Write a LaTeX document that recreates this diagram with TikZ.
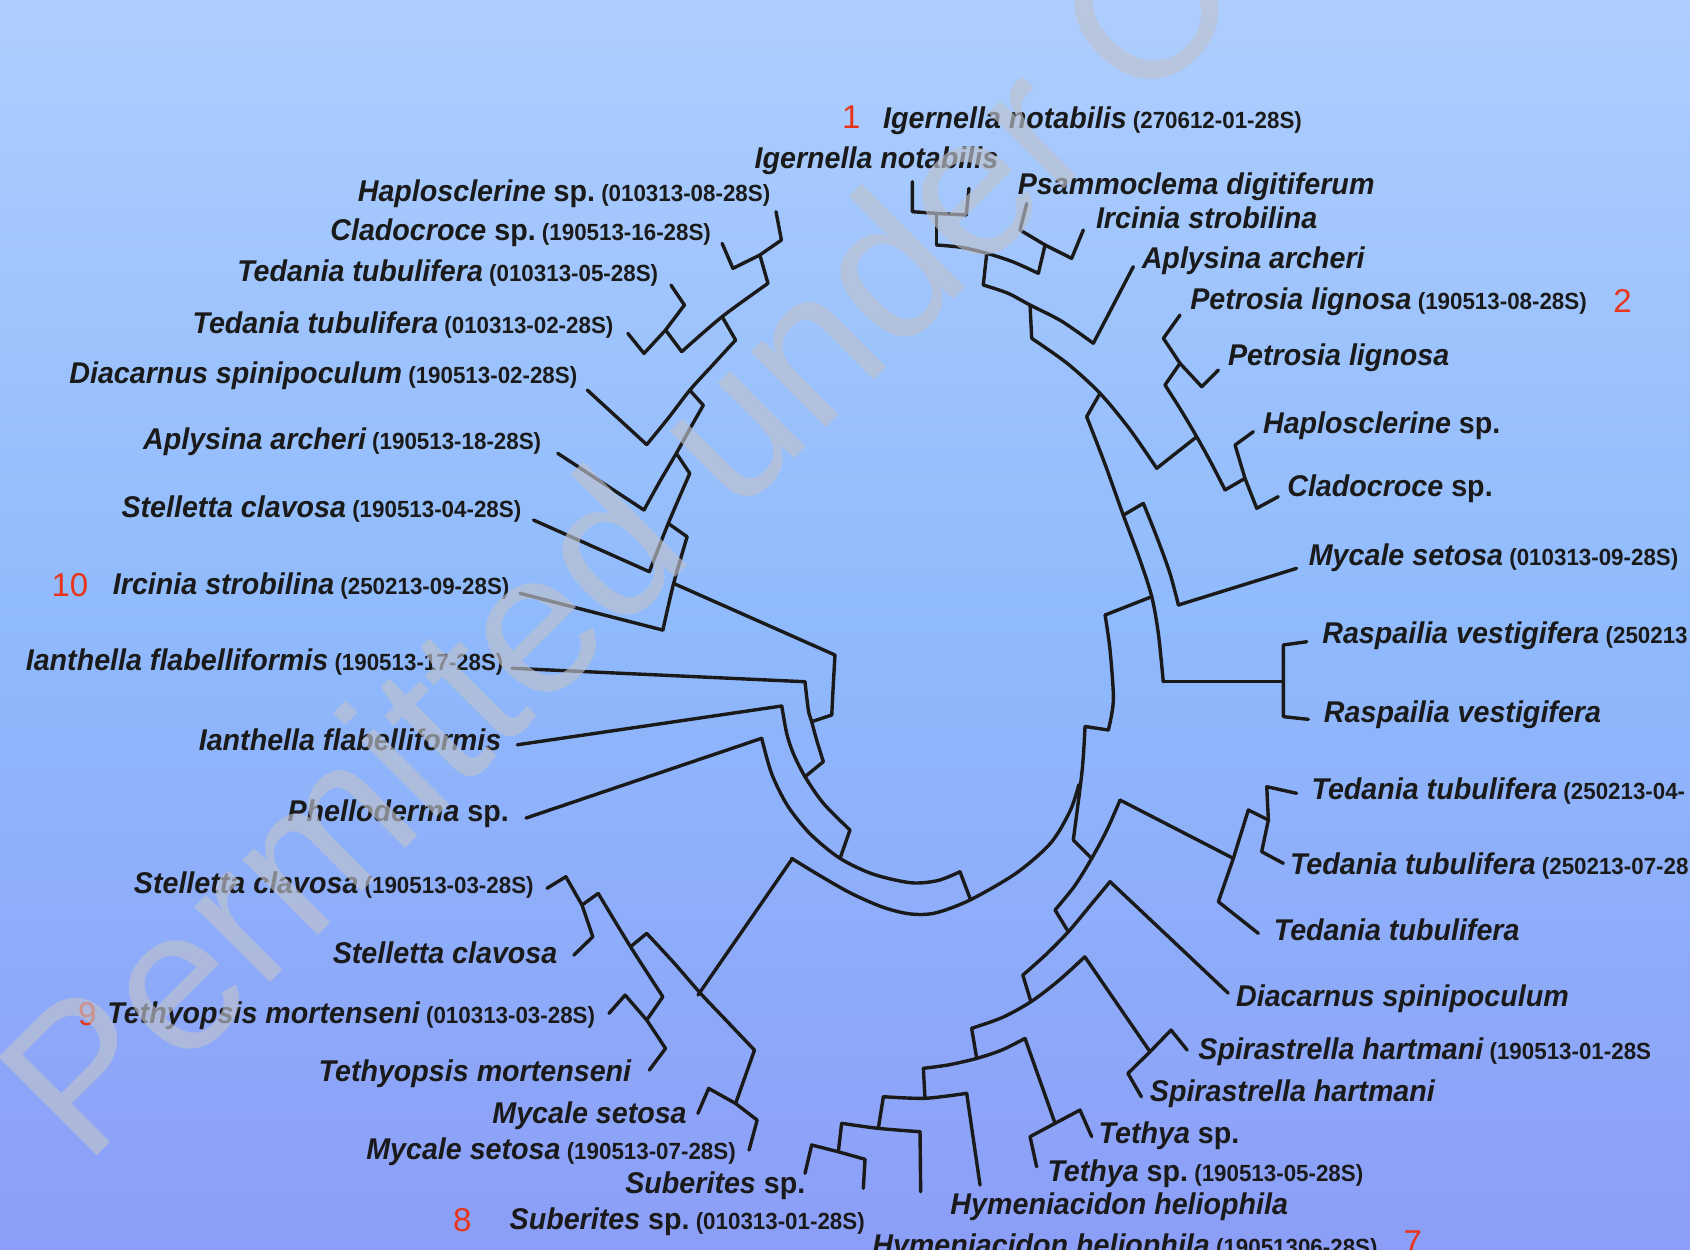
\documentclass[tikz,border=0pt]{standalone}
\usepackage{fontspec}
\setmainfont{Liberation Sans}
\newfontfamily\labfont[FakeStretch=0.955]{Liberation Sans}
\newfontfamily\plainfont{Liberation Sans}
\definecolor{numred}{RGB}{232,52,24}
\definecolor{bgtop}{RGB}{174,206,254}
\definecolor{bgmid}{RGB}{143,186,252}
\definecolor{bgbot}{RGB}{140,158,247}
\definecolor{ink}{RGB}{26,26,26}
\definecolor{wmgray}{RGB}{190,194,205}
\newcommand\nm[1]{{\labfont\bfseries\itshape\fontsize{15}{15}\selectfont #1}}
\newcommand\ac[1]{{\labfont\bfseries\fontsize{11.7}{12}\selectfont\ #1}}
\newcommand\spp{\textup{sp.}}
\begin{document}
\begin{tikzpicture}[x=0.5389pt,y=-0.5389pt,
  br/.style={draw=ink,line width=1.7pt,line join=round,line cap=round},
  arc/.style={br,smooth,tension=0.5},
  lab/.style={inner sep=0pt,text=ink},
  num/.style={inner sep=0pt,text=numred,font=\plainfont\fontsize{16.5}{16.5}\selectfont}]
\shade[top color=bgtop,bottom color=bgbot,middle color=bgmid] (0,0) rectangle (1568,1159);
\useasboundingbox (0,0) rectangle (1568,1159);

% ---------- upper-left group ----------
\draw[br] (720,196.4)--(725,222.7)--(705,236.6)--(680,249)--(670,225.8);
\draw[br] (705,236.6)--(712.5,262.9);
\draw[br] (622.5,264.5)--(635,283)--(617.5,306.2)--(597.5,327.9)--(582.5,309.3);
\draw[br] (617.5,306.2)--(632.5,326.3);
\draw[arc] plot coordinates {(712.5,262.9) (670,293.8) (632.5,326.3)};
\draw[br] (670,293.8)--(682.5,315.5);
\draw[arc] plot coordinates {(682.5,315.5) (660,340) (640,362) (620,388) (600,412.5)};
\draw[br] (600,412.5)--(545,362);
\draw[br] (640,362)--(652.5,376);
\draw[arc] plot coordinates {(652.5,376) (640,398) (627.5,420.6) (612,447) (597.5,473.2)};
\draw[br] (597.5,473.2)--(517.5,420.6);
\draw[br] (627.5,420.6)--(640,439.2);
\draw[arc] plot coordinates {(640,439.2) (620,485.6) (602.5,530.4)};
\draw[br] (602.5,530.4)--(495,482.5);
\draw[br] (620,485.6)--(637.5,498);
\draw[arc] plot coordinates {(637.5,498) (625,541.3) (615,584.6)};
\draw[br] (615,584.6)--(482.5,550.5);
\draw[br] (625,541.3)--(774.7,607.7);

% ---------- root and left spiral ----------
\draw[arc] plot coordinates {(774.7,607.7) (773.2,634) (771.7,663.4)};
\draw[br] (771.7,663.4)--(753.1,669.6);
\draw[br] (475,620)--(746.9,632.5);
\draw[arc] plot coordinates {(746.9,632.5) (750,658.8) (753.1,669.6) (757.7,686.6) (763.9,706.7)};
\draw[br] (763.9,706.7)--(746.9,720.6);
\draw[br] (480,691)--(725.3,655);
\draw[arc] plot coordinates {(725.3,655) (729.9,680.4) (736,699) (746.9,720.6) (763.9,745.3) (788.6,770.1)};
\draw[br] (788.6,770.1)--(779.4,796.4);
\draw[br] (488,759)--(706.7,685);
\draw[arc] plot coordinates {(706.7,685) (716,718) (731,748) (752,774) (779.4,796.4) (810,811) (845,819) (870,817) (890.7,808.8)};
\draw[br] (890.7,808.8)--(900,833.5);
\draw[arc] plot coordinates {(734.5,796.4) (760,812) (790,829) (820,842) (845,848) (868,847) (900,835) (943,810) (975,782) (993,752) (1001,728)};
\draw[br] (647.6,923.2)--(735.3,796.4);

% ---------- bottom-left group ----------
\draw[br] (507.5,824.2)--(525,813.4)--(540,839.7)--(550,869.1)--(532.5,886.1);
\draw[br] (540,839.7)--(555,828.9);
\draw[arc] plot coordinates {(555,828.9) (585,878.4) (615,924.8)};
\draw[br] (565,940.2)--(580,923.2)--(600,946.4)--(617.5,972.7)--(602.5,992.8);
\draw[br] (600,946.4)--(615,924.8);
\draw[br] (585,878.4)--(600,866);
\draw[arc] plot coordinates {(600,866) (625,893) (650,921.7) (675,948) (700,974.3)};
\draw[br] (647.5,1033)--(657.5,1009.8)--(682.5,1023.8)--(702.5,1039.2)--(695,1067);
\draw[br] (682.5,1023.8)--(700,974.3);

% ---------- bottom group ----------
\draw[br] (746.9,1088.6)--(753.1,1062.3)--(777.8,1068.6)--(802.6,1075.6)--(801,1102.5);
\draw[br] (777.8,1068.6)--(780.9,1042.2);
\draw[arc] plot coordinates {(780.9,1042.2) (814.9,1046.9) (853.6,1050)};
\draw[br] (853.6,1050)--(854.2,1105.7);
\draw[br] (814.9,1046.9)--(819.6,1017.5);
\draw[arc] plot coordinates {(819.6,1017.5) (858.2,1019) (896.9,1014.4)};
\draw[br] (896.9,1014.4)--(909.3,1099.5);
\draw[br] (858.2,1019)--(856.7,991.2);
\draw[arc] plot coordinates {(856.7,991.2) (880,988) (906.2,982) (930,974) (951,963.4)};
\draw[br] (951,963.4)--(978.9,1042.2);
\draw[br] (1012.9,1054.6)--(1002,1029.9)--(978.9,1042.2)--(955.7,1054.6)--(961.8,1082.5);
\draw[br] (906.2,982)--(901.5,954.1);
\draw[arc] plot coordinates {(901.5,954.1) (930,944) (956.5,929.4) (982,910) (1006.5,887.7)};
\draw[br] (1006.5,887.7)--(1067,975.8);
\draw[br] (1101.5,974.3)--(1086.5,955.7)--(1067,975.8)--(1046.5,995.9)--(1059,1017.6);
\draw[br] (956.5,929.4)--(949,904.7);

% ---------- right side ----------
\draw[br] (1139.5,921.4)--(1029.9,818);
\draw[arc] plot coordinates {(1029.9,818) (1010,842) (991.2,864.5) (970,886) (949,904.7)};
\draw[br] (978.9,844.3)--(991.2,864.5);
\draw[br] (1144.3,796.4)--(1039.2,742.3);
\draw[arc] plot coordinates {(1039.2,742.3) (1027,770) (1012.9,796.4) (997,822) (978.9,844.3)};
\draw[br] (1167.5,866)--(1130.4,836.6)--(1144.3,796.4)--(1158.2,751.5)--(1176.8,760.8);
\draw[br] (1203,736)--(1175.3,729.9)--(1176.8,760.8)--(1170.6,790.2)--(1190.7,801);
\draw[br] (995.8,779.4)--(1012.9,796.4);
\draw[br] (1028.3,677.3)--(1006.7,674);
\draw[arc] plot coordinates {(1006.7,674) (1004,715) (995.8,779.4)};
\draw[br] (1068.6,553.6)--(1025.3,570.6);
\draw[arc] plot coordinates {(1025.3,570.6) (1029.9,603.1) (1033,649.5) (1028.3,677.3)};
\draw[arc] plot coordinates {(1008.2,386.6) (1025,430) (1042.2,478) (1057.7,519.6) (1068.6,553.6) (1074.7,587.6) (1079.3,632.5)};
\draw[br] (1079.3,632.5)--(1190.7,632.5);
\draw[br] (1042.2,478)--(1060.8,467);
\draw[arc] plot coordinates {(1060.8,467) (1073.2,498) (1085.5,532) (1093.3,561.3)};
\draw[br] (1093.3,561.3)--(1203,527.3);
\draw[br] (1212.4,595.4)--(1190.7,598.4)--(1190.7,664.9)--(1213.9,667.4);

% ---------- top group ----------
\draw[br] (1020.6,364.9)--(1008.2,386.6);
\draw[arc] plot coordinates {(957.2,313.9) (990,337) (1020.6,364.9) (1048,398) (1073.2,434.5)};
\draw[br] (1073.2,434.5)--(1110.3,405.2);
\draw[arc] plot coordinates {(1080.9,357.2) (1096,381) (1110.3,405.2) (1124,430) (1136.6,454.6)};
\draw[br] (1094.8,292.3)--(1079.4,313.9)--(1094.8,337.1)--(1115,358.8)--(1130.4,343.3);
\draw[br] (1094.8,337.1)--(1080.9,357.2);
\draw[br] (1162.9,400.5)--(1145.9,412.9)--(1155.1,443.8)--(1166,471.6)--(1186,460.8);
\draw[br] (1155.1,443.8)--(1136.6,454.6);
\draw[br] (955.7,283)--(957.2,313.9);
\draw[arc] plot coordinates {(912.3,264.4) (935,272) (955.7,283) (985,298) (1014.4,318.5)};
\draw[br] (1014.4,318.5)--(1051.5,247.4);
\draw[br] (915.5,235)--(912.3,264.4);
\draw[arc] plot coordinates {(869,227.3) (892,229.5) (915.5,235) (940,243) (963.4,253.6)};
\draw[br] (969.6,227.3)--(963.4,253.6);
\draw[br] (952.6,188.7)--(946.4,213.4)--(969.6,227.3)--(994.3,239.7)--(1005.1,213.4);
\draw[br] (869,198)--(869,227.3);
\draw[br] (846.5,168.6)--(846.5,196.4)--(869,198)--(896.5,199.5)--(899,174.8);

% ---------- labels, right side ----------
\node[num,anchor=base west] (n1) at (781,119) {1};
\node[lab,anchor=base west] (t1) at (819,119) {\nm{Igernella notabilis}\ac{(270612-01-28S)}};
\node[lab,anchor=base east] (t2) at (926.5,156) {\nm{Igernella notabilis}};
\node[lab,anchor=base west] (t3) at (944,180) {\nm{Psammoclema digitiferum}};
\node[lab,anchor=base west] (t4) at (1016.5,212) {\nm{Ircinia strobilina}};
\node[lab,anchor=base west] (t5) at (1059,249) {\nm{Aplysina archeri}};
\node[lab,anchor=base west] (t6) at (1104,287) {\nm{Petrosia lignosa}\ac{(190513-08-28S)}};
\node[num,anchor=base west] (n2) at (1496.5,290) {2};
\node[lab,anchor=base west] (t7) at (1139,339) {\nm{Petrosia lignosa}};
\node[lab,anchor=base west] (t8) at (1171.5,402) {\nm{Haplosclerine \spp}};
\node[lab,anchor=base west] (t9) at (1194,461) {\nm{Cladocroce \spp}};
\node[lab,anchor=base west] (t10) at (1214,525) {\nm{Mycale setosa}\ac{(010313-09-28S)}};
\node[lab,anchor=base west] (t11) at (1226.5,597) {\nm{Raspailia vestigifera}\ac{(250213}};
\node[lab,anchor=base west] (t12) at (1228,670) {\nm{Raspailia vestigifera}};
\node[lab,anchor=base west] (t13) at (1216.5,742) {\nm{Tedania tubulifera}\ac{(250213-04-}};
\node[lab,anchor=base west] (t14) at (1196.5,811) {\nm{Tedania tubulifera}\ac{(250213-07-28}};
\node[lab,anchor=base west] (t15) at (1181.5,873) {\nm{Tedania tubulifera}};
\node[lab,anchor=base west] (t16) at (1146.5,934) {\nm{Diacarnus spinipoculum}};
\node[lab,anchor=base west] (t17) at (1111.5,983) {\nm{Spirastrella hartmani}\ac{(190513-01-28S}};
\node[lab,anchor=base west] (t18) at (1066.5,1022) {\nm{Spirastrella hartmani}};
\node[lab,anchor=base west] (t19) at (1019,1061) {\nm{Tethya \spp}};
\node[lab,anchor=base west] (t20) at (971.5,1096) {\nm{Tethya \spp}\ac{(190513-05-28S)}};
\node[lab,anchor=base west] (t21) at (881.5,1127) {\nm{Hymeniacidon heliophila}};
\node[lab,anchor=base west] (t22) at (809,1165) {\nm{Hymeniacidon heliophila}\ac{(19051306-28S)}};
\node[num,anchor=base west] (n7) at (1302,1163) {7};

% ---------- labels, left side ----------
\node[lab,anchor=base east] (u1) at (715,187) {\nm{Haplosclerine \spp}\ac{(010313-08-28S)}};
\node[lab,anchor=base east] (u2) at (660,223) {\nm{Cladocroce \spp}\ac{(190513-16-28S)}};
\node[lab,anchor=base east] (u3) at (611,261) {\nm{Tedania tubulifera}\ac{(010313-05-28S)}};
\node[lab,anchor=base east] (u4) at (569.5,309) {\nm{Tedania tubulifera}\ac{(010313-02-28S)}};
\node[lab,anchor=base east] (u5) at (536,356) {\nm{Diacarnus spinipoculum}\ac{(190513-02-28S)}};
\node[lab,anchor=base east] (u6) at (502.5,417) {\nm{Aplysina archeri}\ac{(190513-18-28S)}};
\node[lab,anchor=base east] (u7) at (484,480) {\nm{Stelletta clavosa}\ac{(190513-04-28S)}};
\node[num,anchor=base west] (n10) at (47.5,553) {10};
\node[lab,anchor=base east] (u8) at (473,552) {\nm{Ircinia strobilina}\ac{(250213-09-28S)}};
\node[lab,anchor=base east] (u9) at (467.5,622) {\nm{Ianthella flabelliformis}\ac{(190513-17-28S)}};
\node[lab,anchor=base east] (u10) at (465.5,696) {\nm{Ianthella flabelliformis}};
\node[lab,anchor=base east] (u11) at (472.5,762) {\nm{Phelloderma \spp}};
\node[lab,anchor=base east] (u12) at (495.5,829) {\nm{Stelletta clavosa}\ac{(190513-03-28S)}};
\node[lab,anchor=base east] (u13) at (517.5,894) {\nm{Stelletta clavosa}};
\node[num,anchor=base west] (n9) at (72,951) {9};
\node[lab,anchor=base east] (u14) at (552.5,950) {\nm{Tethyopsis mortenseni}\ac{(010313-03-28S)}};
\node[lab,anchor=base east] (u15) at (586,1003) {\nm{Tethyopsis mortenseni}};
\node[lab,anchor=base east] (u16) at (637.5,1042) {\nm{Mycale setosa}};
\node[lab,anchor=base east] (u17) at (683,1076) {\nm{Mycale setosa}\ac{(190513-07-28S)}};
\node[lab,anchor=base east] (u18) at (747.5,1107) {\nm{Suberites \spp}};
\node[num,anchor=base west] (n8) at (420,1143) {8};
\node[lab,anchor=base west] (u19) at (472.5,1141) {\nm{Suberites \spp}\ac{(010313-01-28S)}};

% ---------- watermark ----------
\node[rotate=45,inner sep=0pt,text=wmgray,text opacity=0.65,font=\plainfont\fontsize{101}{101}\selectfont] (wm) at (570,498) {Permitted under C};
\end{tikzpicture}
\end{document}
